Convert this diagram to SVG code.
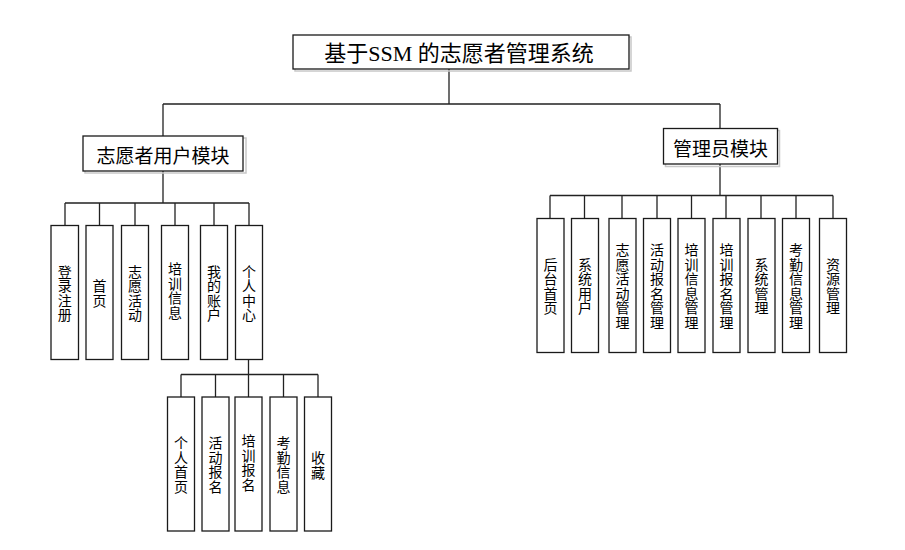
<svg xmlns="http://www.w3.org/2000/svg" width="905" height="550" viewBox="0 0 905 550">
<style>
.bg{fill:#fff}
.box{fill:#fff;stroke:#1a1a1a;stroke-width:1.3}
.shadow{fill:none;stroke:#c8c8c8;stroke-width:1.5}
.ln{stroke:#222;stroke-width:1.3;fill:none}
.t{font-family:"Noto Sans CJK SC","Noto Sans",sans-serif;fill:#000;text-anchor:middle;dominant-baseline:central}
.title{font-family:"Liberation Serif","Noto Sans CJK SC",serif;font-size:22px}
.mod{font-size:19px}
.leaf{font-size:14px}
</style>
<rect class="bg" x="0" y="0" width="905" height="550"/>
<g id="connectors">
<path class="ln" d="M449,69V104M163,104H720M163,104V136M720,104V128"/>
<path class="ln" d="M163,171V203M65,203H249M65,203V225M99.5,203V225M135,203V225M175,203V225M214,203V225M249,203V225"/>
<path class="ln" d="M720,164V195.5M550,195.5H833M550,195.5V218M584.5,195.5V218M622,195.5V218M657,195.5V218M691.5,195.5V218M726,195.5V218M761,195.5V218M796,195.5V218M833,195.5V218"/>
<path class="ln" d="M248.5,359V374.5M181,374.5H318M181,374.5V397M215.5,374.5V397M248.5,374.5V397M283.5,374.5V397M318,374.5V397"/>
</g>
<g id="root">
<rect class="shadow" x="295" y="37" width="336" height="34"/>
<rect class="box" x="293" y="35" width="336" height="34"/>
<text class="t title" x="459" y="53">基于SSM 的志愿者管理系统</text>
</g>
<g id="mod-user">
<rect class="shadow" x="85" y="138" width="161" height="35"/>
<rect class="box" x="83" y="136" width="160" height="35"/>
<text class="t mod" x="163" y="154">志愿者用户模块</text>
</g>
<g id="mod-admin">
<rect class="shadow" x="665.5" y="130.5" width="114" height="36"/>
<rect class="box" x="663.5" y="128.5" width="114" height="35.5"/>
<text class="t mod" x="720.5" y="147">管理员模块</text>
</g>
<g id="u1"><rect class="box" x="51" y="225.5" width="27.5" height="134"/><text class="t leaf" x="64.75" y="270.5"><tspan x="64.75" dy="0">登</tspan><tspan x="64.75" dy="14.5">录</tspan><tspan x="64.75" dy="14.5">注</tspan><tspan x="64.75" dy="14.5">册</tspan></text></g>
<g id="u2"><rect class="box" x="86" y="225.5" width="27" height="134"/><text class="t leaf" x="99.5" y="285"><tspan x="99.5" dy="0">首</tspan><tspan x="99.5" dy="14.5">页</tspan></text></g>
<g id="u3"><rect class="box" x="121.5" y="225.5" width="27" height="134"/><text class="t leaf" x="135" y="270.5"><tspan x="135" dy="0">志</tspan><tspan x="135" dy="14.5">愿</tspan><tspan x="135" dy="14.5">活</tspan><tspan x="135" dy="14.5">动</tspan></text></g>
<g id="u4"><rect class="box" x="161.5" y="225.5" width="27" height="134"/><text class="t leaf" x="175" y="268"><tspan x="175" dy="0">培</tspan><tspan x="175" dy="14.5">训</tspan><tspan x="175" dy="14.5">信</tspan><tspan x="175" dy="14.5">息</tspan></text></g>
<g id="u5"><rect class="box" x="200.5" y="225.5" width="27" height="134"/><text class="t leaf" x="214" y="270.5"><tspan x="214" dy="0">我</tspan><tspan x="214" dy="14.5">的</tspan><tspan x="214" dy="14.5">账</tspan><tspan x="214" dy="14.5">户</tspan></text></g>
<g id="u6"><rect class="box" x="235.5" y="225.5" width="27" height="134"/><text class="t leaf" x="249" y="270.5"><tspan x="249" dy="0">个</tspan><tspan x="249" dy="14.5">人</tspan><tspan x="249" dy="14.5">中</tspan><tspan x="249" dy="14.5">心</tspan></text></g>
<g id="p1"><rect class="box" x="167.5" y="397" width="27" height="134"/><text class="t leaf" x="181" y="442"><tspan x="181" dy="0">个</tspan><tspan x="181" dy="14.5">人</tspan><tspan x="181" dy="14.5">首</tspan><tspan x="181" dy="14.5">页</tspan></text></g>
<g id="p2"><rect class="box" x="202" y="397" width="27" height="134"/><text class="t leaf" x="215.5" y="442"><tspan x="215.5" dy="0">活</tspan><tspan x="215.5" dy="14.5">动</tspan><tspan x="215.5" dy="14.5">报</tspan><tspan x="215.5" dy="14.5">名</tspan></text></g>
<g id="p3"><rect class="box" x="235" y="397" width="27" height="134"/><text class="t leaf" x="248.5" y="440"><tspan x="248.5" dy="0">培</tspan><tspan x="248.5" dy="14.5">训</tspan><tspan x="248.5" dy="14.5">报</tspan><tspan x="248.5" dy="14.5">名</tspan></text></g>
<g id="p4"><rect class="box" x="270" y="397" width="27" height="134"/><text class="t leaf" x="283.5" y="442"><tspan x="283.5" dy="0">考</tspan><tspan x="283.5" dy="14.5">勤</tspan><tspan x="283.5" dy="14.5">信</tspan><tspan x="283.5" dy="14.5">息</tspan></text></g>
<g id="p5"><rect class="box" x="304.5" y="397" width="27" height="134"/><text class="t leaf" x="318" y="457"><tspan x="318" dy="0">收</tspan><tspan x="318" dy="14.5">藏</tspan></text></g>
<g id="a1"><rect class="box" x="537" y="218.5" width="27" height="134"/><text class="t leaf" x="550.5" y="263.5"><tspan x="550.5" dy="0">后</tspan><tspan x="550.5" dy="14.5">台</tspan><tspan x="550.5" dy="14.5">首</tspan><tspan x="550.5" dy="14.5">页</tspan></text></g>
<g id="a2"><rect class="box" x="571.5" y="218.5" width="27" height="134"/><text class="t leaf" x="585" y="263.5"><tspan x="585" dy="0">系</tspan><tspan x="585" dy="14.5">统</tspan><tspan x="585" dy="14.5">用</tspan><tspan x="585" dy="14.5">户</tspan></text></g>
<g id="a3"><rect class="box" x="609" y="218.5" width="27" height="134"/><text class="t leaf" x="622.5" y="249"><tspan x="622.5" dy="0">志</tspan><tspan x="622.5" dy="14.5">愿</tspan><tspan x="622.5" dy="14.5">活</tspan><tspan x="622.5" dy="14.5">动</tspan><tspan x="622.5" dy="14.5">管</tspan><tspan x="622.5" dy="14.5">理</tspan></text></g>
<g id="a4"><rect class="box" x="643.5" y="218.5" width="27" height="134"/><text class="t leaf" x="657" y="249"><tspan x="657" dy="0">活</tspan><tspan x="657" dy="14.5">动</tspan><tspan x="657" dy="14.5">报</tspan><tspan x="657" dy="14.5">名</tspan><tspan x="657" dy="14.5">管</tspan><tspan x="657" dy="14.5">理</tspan></text></g>
<g id="a5"><rect class="box" x="678" y="218.5" width="27" height="134"/><text class="t leaf" x="691.5" y="249"><tspan x="691.5" dy="0">培</tspan><tspan x="691.5" dy="14.5">训</tspan><tspan x="691.5" dy="14.5">信</tspan><tspan x="691.5" dy="14.5">息</tspan><tspan x="691.5" dy="14.5">管</tspan><tspan x="691.5" dy="14.5">理</tspan></text></g>
<g id="a6"><rect class="box" x="713" y="218.5" width="27" height="134"/><text class="t leaf" x="726.5" y="249"><tspan x="726.5" dy="0">培</tspan><tspan x="726.5" dy="14.5">训</tspan><tspan x="726.5" dy="14.5">报</tspan><tspan x="726.5" dy="14.5">名</tspan><tspan x="726.5" dy="14.5">管</tspan><tspan x="726.5" dy="14.5">理</tspan></text></g>
<g id="a7"><rect class="box" x="748" y="218.5" width="27" height="134"/><text class="t leaf" x="761.5" y="263.5"><tspan x="761.5" dy="0">系</tspan><tspan x="761.5" dy="14.5">统</tspan><tspan x="761.5" dy="14.5">管</tspan><tspan x="761.5" dy="14.5">理</tspan></text></g>
<g id="a8"><rect class="box" x="782.5" y="218.5" width="27" height="134"/><text class="t leaf" x="796" y="249"><tspan x="796" dy="0">考</tspan><tspan x="796" dy="14.5">勤</tspan><tspan x="796" dy="14.5">信</tspan><tspan x="796" dy="14.5">息</tspan><tspan x="796" dy="14.5">管</tspan><tspan x="796" dy="14.5">理</tspan></text></g>
<g id="a9"><rect class="box" x="819.5" y="218.5" width="27" height="134"/><text class="t leaf" x="833" y="263.5"><tspan x="833" dy="0">资</tspan><tspan x="833" dy="14.5">源</tspan><tspan x="833" dy="14.5">管</tspan><tspan x="833" dy="14.5">理</tspan></text></g>
</svg>
